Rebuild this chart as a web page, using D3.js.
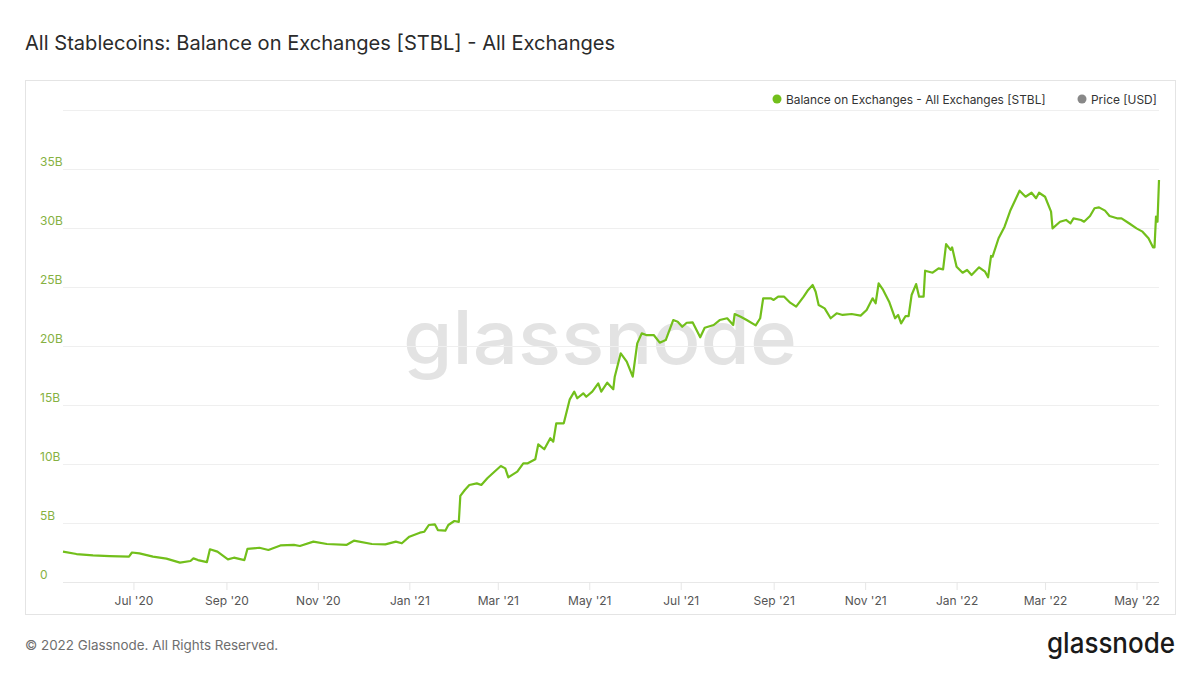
<!DOCTYPE html>
<html>
<head>
<meta charset="utf-8">
<script src="https://cdn.jsdelivr.net/npm/d3@7"></script>
<style>
  html, body { margin: 0; padding: 0; background: #ffffff; }
  svg { display: block; font-family: Inter, "Noto Sans", sans-serif; }
</style>
</head>
<body>
<svg id="chart" width="1200" height="675"></svg>
<script>
// ---- data ----
const dates = [
"2020-05-15","2020-05-24","2020-06-04","2020-06-15","2020-06-28","2020-06-30","2020-07-05","2020-07-14","2020-07-23","2020-08-01",
"2020-08-08","2020-08-10","2020-08-13","2020-08-19","2020-08-21","2020-08-26","2020-09-02","2020-09-06","2020-09-13","2020-09-15",
"2020-09-23","2020-09-29","2020-10-07","2020-10-16","2020-10-20","2020-10-29","2020-11-07","2020-11-20","2020-11-25","2020-12-07",
"2020-12-16","2020-12-23","2020-12-27","2021-01-01","2021-01-08","2021-01-11","2021-01-14","2021-01-18","2021-01-20","2021-01-25",
"2021-01-27","2021-01-31","2021-02-03","2021-02-04","2021-02-07","2021-02-10","2021-02-15","2021-02-18","2021-02-22","2021-02-26",
"2021-03-03","2021-03-06","2021-03-08","2021-03-14","2021-03-18","2021-03-21","2021-03-26","2021-03-28","2021-04-01","2021-04-05",
"2021-04-07","2021-04-09","2021-04-14","2021-04-18","2021-04-21","2021-04-23","2021-04-27","2021-04-29","2021-05-03","2021-05-07",
"2021-05-09","2021-05-13","2021-05-17","2021-05-18","2021-05-22","2021-05-26","2021-05-30","2021-06-02","2021-06-05","2021-06-08",
"2021-06-13","2021-06-17","2021-06-21","2021-06-26","2021-06-29","2021-07-02","2021-07-05","2021-07-09","2021-07-14","2021-07-17",
"2021-07-23","2021-07-27","2021-08-01","2021-08-05","2021-08-06","2021-08-10","2021-08-14","2021-08-20","2021-08-23","2021-08-25",
"2021-08-30","2021-09-01","2021-09-04","2021-09-08","2021-09-12","2021-09-16","2021-09-21","2021-09-24","2021-09-27","2021-09-29",
"2021-10-01","2021-10-05","2021-10-09","2021-10-13","2021-10-17","2021-10-23","2021-10-29","2021-11-02","2021-11-06","2021-11-08",
"2021-11-10","2021-11-13","2021-11-17","2021-11-21","2021-11-23","2021-11-25","2021-11-28","2021-11-30","2021-12-02","2021-12-05",
"2021-12-07","2021-12-10","2021-12-11","2021-12-16","2021-12-20","2021-12-23","2021-12-25","2021-12-28","2021-12-29","2022-01-01",
"2022-01-05","2022-01-08","2022-01-11","2022-01-16","2022-01-20","2022-01-22","2022-01-24","2022-01-25","2022-01-29","2022-02-02",
"2022-02-06","2022-02-12","2022-02-16","2022-02-20","2022-02-23","2022-02-25","2022-03-01","2022-03-05","2022-03-06","2022-03-11",
"2022-03-15","2022-03-18","2022-03-20","2022-03-25","2022-03-27","2022-03-31","2022-04-03","2022-04-06","2022-04-10","2022-04-13",
"2022-04-18","2022-04-21","2022-04-26","2022-05-01","2022-05-05","2022-05-09","2022-05-12","2022-05-13","2022-05-14","2022-05-15",
"2022-05-16"
];
// balance in billions of USD
const balance = [
2.57,2.37,2.26,2.20,2.15,2.50,2.43,2.15,1.98,1.64,
1.78,2.00,1.86,1.69,2.77,2.57,1.92,2.06,1.86,2.80,
2.90,2.71,3.10,3.14,3.05,3.42,3.22,3.14,3.50,3.22,
3.19,3.42,3.28,3.84,4.18,4.26,4.83,4.89,4.40,4.35,
4.83,5.17,5.10,7.30,7.80,8.22,8.36,8.22,8.79,9.26,
9.83,9.63,8.87,9.35,10.06,10.06,10.40,11.67,11.25,12.18,
11.89,13.45,13.45,15.48,16.13,15.57,15.99,15.70,16.13,16.84,
16.13,16.89,16.33,17.40,19.38,18.67,17.40,20.22,21.07,20.93,
20.93,20.28,20.50,22.20,22.06,21.63,21.97,22.00,20.74,21.55,
21.78,22.20,22.35,21.78,22.71,22.48,22.20,21.75,22.35,24.04,
24.04,23.90,24.18,24.18,23.67,23.33,24.18,24.75,25.17,24.60,
23.47,23.19,22.35,22.77,22.63,22.71,22.57,23.05,24.04,23.62,
25.31,24.75,23.76,22.35,22.63,21.92,22.54,22.54,24.32,25.25,
24.18,24.18,26.38,26.21,26.58,26.50,28.64,28.14,28.36,26.72,
26.21,26.44,26.02,26.67,26.30,25.82,27.63,27.57,29.13,30.11,
31.53,33.16,32.65,32.99,32.52,32.99,32.65,31.38,29.97,30.53,
30.68,30.40,30.82,30.68,30.53,31.02,31.67,31.75,31.47,31.02,
30.82,30.82,30.40,29.97,29.69,29.13,28.36,28.36,30.96,30.53,
34.07
];
const yTickValues = [0, 5, 10, 15, 20, 25, 30, 35];
const yTickLabels = ["0", "5B", "10B", "15B", "20B", "25B", "30B", "35B"];
const xTickDates = ["2020-07-01","2020-09-01","2020-11-01","2021-01-01","2021-03-01","2021-05-01",
                    "2021-07-01","2021-09-01","2021-11-01","2022-01-01","2022-03-01","2022-05-01"];
const xTickLabels = ["Jul '20","Sep '20","Nov '20","Jan '21","Mar '21","May '21",
                     "Jul '21","Sep '21","Nov '21","Jan '22","Mar '22","May '22"];
const titleText = "All Stablecoins: Balance on Exchanges [STBL] - All Exchanges";
const legendItems = ["Balance on Exchanges - All Exchanges [STBL]", "Price [USD]"];

// ---- drawing ----
const parse = d3.utcParse("%Y-%m-%d");
const series = dates.map((d, i) => ({ date: parse(d), value: balance[i] }));

const svg = d3.select("#chart");
const W = 1200, H = 675;
const plot = { left: 63, right: 1159, top: 110, bottom: 582 };

svg.append("rect").attr("width", W).attr("height", H).attr("fill", "#ffffff");

// title
svg.append("text").attr("x", 25).attr("y", 50)
  .attr("font-size", 20.1).attr("fill", "#2b2b2b").text(titleText);

// panel
svg.append("rect").attr("x", 25.5).attr("y", 80.5).attr("width", 1150).attr("height", 534)
  .attr("fill", "#ffffff").attr("stroke", "#e4e4e4");

const x = d3.scaleUtc()
  .domain([parse("2020-05-15"), parse("2022-05-16")])
  .range([plot.left, plot.right]);
const y = d3.scaleLinear().domain([0, 40]).range([plot.bottom, plot.top]);

// watermark
svg.append("text").attr("x", 600).attr("y", 364).attr("text-anchor", "middle")
  .attr("font-size", 74).attr("font-weight", 500).attr("fill", "#e3e3e3")
  .attr("textLength", 394).attr("lengthAdjust", "spacingAndGlyphs")
  .text("glassnode");

// horizontal grid
const gridVals = d3.range(0, 45, 5);
svg.append("g").selectAll("line").data(gridVals).join("line")
  .attr("x1", plot.left).attr("x2", plot.right)
  .attr("y1", d => Math.round(y(d)) + 0.5).attr("y2", d => Math.round(y(d)) + 0.5)
  .attr("stroke", d => d === 0 ? "#e8e8e8" : "#efefef");

// y labels
svg.append("g").selectAll("text").data(yTickValues).join("text")
  .attr("x", 40).attr("y", d => y(d) - 3)
  .attr("font-size", 12).attr("fill", "#86b142")
  .text((d, i) => yTickLabels[i]);

// x axis via d3.axisBottom
const xAxis = d3.axisBottom(x)
  .tickValues(xTickDates.map(parse))
  .tickFormat((d, i) => xTickLabels[i])
  .tickSize(8).tickPadding(6);
const gx = svg.append("g").attr("transform", `translate(0,${plot.bottom})`).call(xAxis);
gx.select(".domain").remove();
gx.selectAll(".tick line").attr("stroke", "#e6e6e6");
gx.selectAll(".tick text").attr("font-size", 12).attr("fill", "#555")
  .attr("font-family", "Inter, 'Noto Sans', sans-serif");

// line
const line = d3.line().x(d => x(d.date)).y(d => y(d.value)).curve(d3.curveLinear);
svg.append("path").datum(series).attr("d", line)
  .attr("fill", "none").attr("stroke", "#72bf1b").attr("stroke-width", 2.2)
  .attr("stroke-linejoin", "round");

// legend
const lg = svg.append("g").attr("font-size", 11.9).attr("fill", "#333");
lg.append("circle").attr("cx", 777).attr("cy", 99).attr("r", 4.5).attr("fill", "#72bf1b");
lg.append("text").attr("x", 786).attr("y", 103.5).text(legendItems[0]);
lg.append("circle").attr("cx", 1082).attr("cy", 99).attr("r", 4.5).attr("fill", "#888888");
lg.append("text").attr("x", 1091).attr("y", 103.5).text(legendItems[1]);

// footer
svg.append("text").attr("x", 25).attr("y", 650).attr("font-size", 13.4).attr("fill", "#6e6e6e")
  .text("© 2022 Glassnode. All Rights Reserved.");
svg.append("text").attr("x", 1175).attr("y", 653).attr("text-anchor", "end")
  .attr("font-size", 28).attr("font-weight", 500).attr("fill", "#1a1a1a")
  .attr("textLength", 128).attr("lengthAdjust", "spacingAndGlyphs")
  .text("glassnode");
</script>
</body>
</html>
